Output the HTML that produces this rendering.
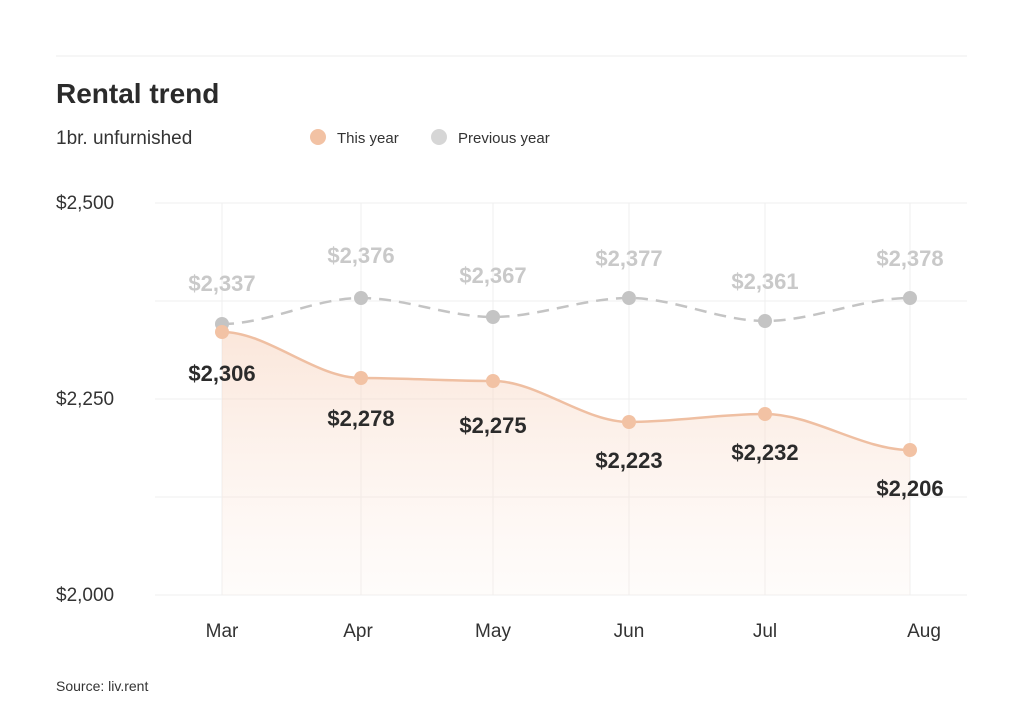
<!DOCTYPE html>
<html><head><meta charset="utf-8"><style>
body{margin:0;background:#fff;}
svg{display:block;font-family:"Liberation Sans",sans-serif;}
</style></head><body>
<svg width="1024" height="717" viewBox="0 0 1024 717">
<defs>
<linearGradient id="g" x1="0" y1="0" x2="0" y2="1">
<stop offset="0" stop-color="#f7d3bd" stop-opacity="0.55"/>
<stop offset="1" stop-color="#fbe9df" stop-opacity="0.15"/>
</linearGradient>
</defs>
<line x1="56" y1="56" x2="967" y2="56" stroke="#eeeeee" stroke-width="1"/>
<text x="56" y="103" font-size="28" font-weight="bold" fill="#2b2b2b">Rental trend</text>
<text x="56" y="144" font-size="19" fill="#333">1br. unfurnished</text>
<circle cx="318" cy="137" r="8" fill="#f2c2a4"/>
<text x="337" y="143" font-size="15" fill="#333">This year</text>
<circle cx="439" cy="137" r="8" fill="#d6d6d6"/>
<text x="458" y="143" font-size="15" fill="#333">Previous year</text>
<g stroke="#efefef" stroke-width="1">
<line x1="155" y1="203" x2="967" y2="203"/>
<line x1="155" y1="301" x2="967" y2="301"/>
<line x1="155" y1="399" x2="967" y2="399"/>
<line x1="155" y1="497" x2="967" y2="497"/>
<line x1="155" y1="595" x2="967" y2="595"/>
<line x1="222" y1="203" x2="222" y2="595"/>
<line x1="361" y1="203" x2="361" y2="595"/>
<line x1="493" y1="203" x2="493" y2="595"/>
<line x1="629" y1="203" x2="629" y2="595"/>
<line x1="765" y1="203" x2="765" y2="595"/>
<line x1="910" y1="203" x2="910" y2="595"/>
</g>
<g font-size="19" fill="#333">
<text x="56" y="209">$2,500</text>
<text x="56" y="405">$2,250</text>
<text x="56" y="601">$2,000</text>
</g>
<g font-size="19" fill="#333" text-anchor="middle">
<text x="222" y="637">Mar</text><text x="358" y="637">Apr</text><text x="493" y="637">May</text>
<text x="629" y="637">Jun</text><text x="765" y="637">Jul</text><text x="924" y="637">Aug</text>
</g>
<path d="M222 332 C268 332 315 378 361 378 C405 378 449 381 493 381 C538 381 584 422 629 422 C674 422 720 414 765 414 C813 414 862 450 910 450 L910 595 L222 595 Z" fill="url(#g)"/>
<path d="M222 324 C268 324 315 298 361 298 C405 298 449 317 493 317 C538 317 584 298 629 298 C674 298 720 321 765 321 C813 321 862 298 910 298" fill="none" stroke="#c4c4c4" stroke-width="2.5" stroke-dasharray="12 8"/>
<path d="M222 332 C268 332 315 378 361 378 C405 378 449 381 493 381 C538 381 584 422 629 422 C674 422 720 414 765 414 C813 414 862 450 910 450" fill="none" stroke="#efbfa2" stroke-width="2.5"/>
<g fill="#c4c4c4">
<circle cx="222" cy="324" r="7"/><circle cx="361" cy="298" r="7"/><circle cx="493" cy="317" r="7"/>
<circle cx="629" cy="298" r="7"/><circle cx="765" cy="321" r="7"/><circle cx="910" cy="298" r="7"/>
</g>
<g fill="#f2c2a4">
<circle cx="222" cy="332" r="7"/><circle cx="361" cy="378" r="7"/><circle cx="493" cy="381" r="7"/>
<circle cx="629" cy="422" r="7"/><circle cx="765" cy="414" r="7"/><circle cx="910" cy="450" r="7"/>
</g>
<g font-size="22" font-weight="bold" fill="#c9c9c9" text-anchor="middle">
<text x="222" y="291">$2,337</text><text x="361" y="263">$2,376</text><text x="493" y="283">$2,367</text>
<text x="629" y="266">$2,377</text><text x="765" y="289">$2,361</text><text x="910" y="266">$2,378</text>
</g>
<g font-size="22" font-weight="bold" fill="#2b2b2b" text-anchor="middle">
<text x="222" y="381">$2,306</text><text x="361" y="426">$2,278</text><text x="493" y="433">$2,275</text>
<text x="629" y="468">$2,223</text><text x="765" y="460">$2,232</text><text x="910" y="496">$2,206</text>
</g>
<text x="56" y="691" font-size="14" fill="#333">Source: liv.rent</text>
</svg>
</body></html>
